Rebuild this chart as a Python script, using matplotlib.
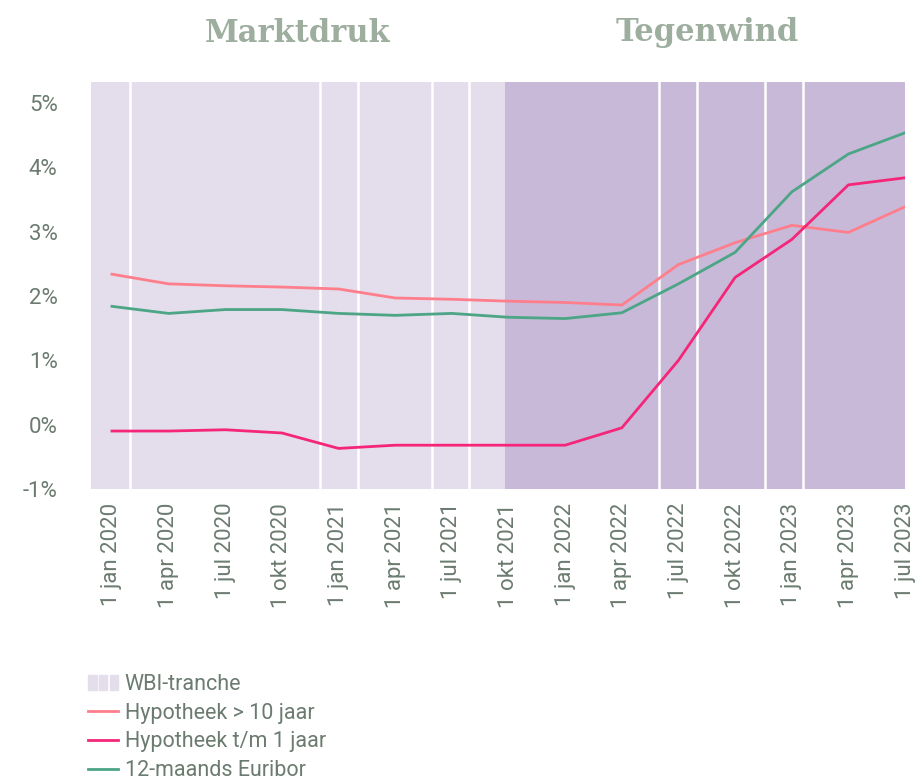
import numpy as np
import matplotlib.pyplot as plt
from matplotlib.patches import Patch
from matplotlib.lines import Line2D
from matplotlib.legend_handler import HandlerTuple

plt.rcParams['font.family'] = ['Roboto', 'DejaVu Sans']

# Quarterly dates on the x axis
dates = ['1 jan 2020', '1 apr 2020', '1 jul 2020', '1 okt 2020',
         '1 jan 2021', '1 apr 2021', '1 jul 2021', '1 okt 2021',
         '1 jan 2022', '1 apr 2022', '1 jul 2022', '1 okt 2022',
         '1 jan 2023', '1 apr 2023', '1 jul 2023']

hyp_10 = [2.34, 2.19, 2.16, 2.14, 2.11, 1.97, 1.95, 1.92,
          1.90, 1.86, 2.49, 2.83, 3.10, 2.99, 3.39]
hyp_1 = [-0.10, -0.10, -0.08, -0.13, -0.37, -0.32, -0.32, -0.32,
         -0.32, -0.05, 1.00, 2.29, 2.88, 3.73, 3.84]
euribor = [1.84, 1.73, 1.79, 1.79, 1.73, 1.70, 1.73, 1.67,
           1.65, 1.74, 2.19, 2.68, 3.62, 4.21, 4.54]

# WBI-tranches, start/end in quarters since 1 jan 2020
tranche_start = [-0.37, 0.32, 3.68, 4.35, 5.65, 6.31, 6.93, 9.66, 10.33, 11.53, 12.19]
tranche_end = [0.32, 3.68, 4.35, 5.65, 6.31, 6.93, 9.66, 10.33, 11.53, 12.19, 14.0]
phase_split = 6.93  # Marktdruk -> Tegenwind

light_bg = '#E3DDEC'
dark_bg = '#C8B9D9'
text_col = '#6B7B70'
title_col = '#9DAE9F'

fig = plt.figure(figsize=(9.24, 7.81), dpi=100)
ax = fig.add_axes([0.0985, 0.374, 0.881, 0.521])

for s, e in zip(tranche_start, tranche_end):
    col = light_bg if s < phase_split else dark_bg
    ax.axvspan(s, e, color=col, lw=0, zorder=0)
for s in tranche_start[1:]:
    if s != phase_split:
        ax.axvline(s, color='white', lw=1.8, zorder=1)

x = np.arange(len(dates))
ax.plot(x, hyp_10, color='#FF7E8B', lw=2, zorder=3)
ax.plot(x, euribor, color='#4CA585', lw=2, zorder=3)
ax.plot(x, hyp_1, color='#F52679', lw=2, zorder=4)

ax.set_xlim(-0.37, 14.0)
ax.set_ylim(-1, 5.33)
ax.set_yticks(range(-1, 6))
ax.set_yticklabels([f'{v}%' for v in range(-1, 6)])
ax.set_xticks(x)
ax.set_xticklabels(dates, rotation=90, va='top', ha='center')
ax.tick_params(length=0, colors=text_col, labelsize=16)
ax.tick_params(axis='y', pad=24)
ax.tick_params(axis='x', pad=10)
for sp in ax.spines.values():
    sp.set_visible(False)

# Phase headings
fig.text(298 / 924, 1 - 33 / 781, 'Marktdruk', family='DejaVu Serif', weight='bold',
         fontsize=22, color=title_col, ha='center', va='center')
fig.text(707 / 924, 1 - 33 / 781, 'Tegenwind', family='DejaVu Serif', weight='bold',
         fontsize=22, color=title_col, ha='center', va='center')

handles = [
    (Patch(color=light_bg), Patch(color=light_bg), Patch(color=light_bg)),
    Line2D([], [], color='#FF7E8B', lw=2),
    Line2D([], [], color='#F52679', lw=2),
    Line2D([], [], color='#4CA585', lw=2),
]
labels = ['WBI-tranche', 'Hypotheek > 10 jaar', 'Hypotheek t/m 1 jaar', '12-maands Euribor']
fig.legend(handles, labels, loc='upper left', bbox_to_anchor=(88 / 924, 1 - 674 / 781),
           frameon=False, fontsize=15.5, labelcolor=text_col, handlelength=1.4,
           handletextpad=0.3, labelspacing=0.36, borderaxespad=0, borderpad=0,
           handler_map={tuple: HandlerTuple(ndivide=None, pad=0.1)})

plt.savefig('out.png', dpi=100)
